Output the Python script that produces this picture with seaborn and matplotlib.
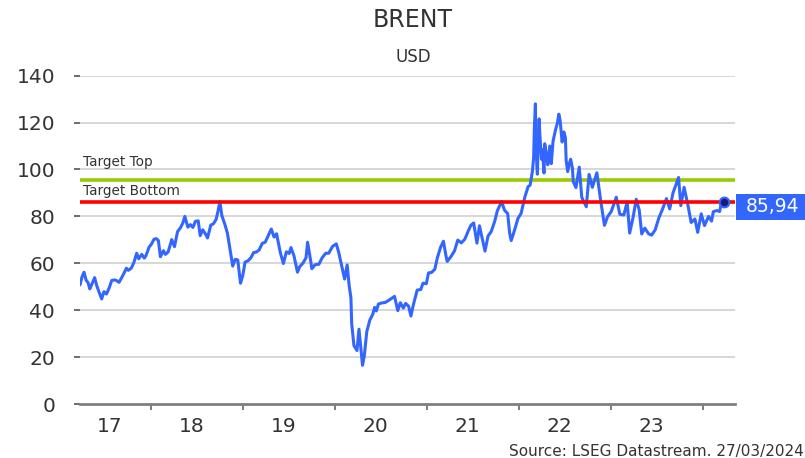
import pandas as pd
import matplotlib.pyplot as plt
import matplotlib.dates as mdates
import matplotlib.transforms as mtransforms
from matplotlib.patches import Rectangle
import seaborn as sns

# Brent, USD
dates = [
    "2017-03-27", "2017-04-04", "2017-04-12", "2017-04-20", "2017-04-28", "2017-05-05", "2017-05-12",
    "2017-05-24", "2017-06-01", "2017-06-09", "2017-06-21", "2017-06-30", "2017-07-10", "2017-07-20",
    "2017-07-31", "2017-08-10", "2017-08-18", "2017-08-29", "2017-09-08", "2017-09-20", "2017-09-27",
    "2017-10-05", "2017-10-17", "2017-10-27", "2017-11-07", "2017-11-15", "2017-11-27", "2017-12-07",
    "2017-12-14", "2017-12-26",
    "2018-01-04", "2018-01-15", "2018-01-24", "2018-02-01", "2018-02-09", "2018-02-21", "2018-03-01",
    "2018-03-12", "2018-03-26", "2018-04-06", "2018-04-18", "2018-04-30", "2018-05-09", "2018-05-17",
    "2018-05-29", "2018-06-08", "2018-06-18", "2018-06-28", "2018-07-09", "2018-07-17", "2018-07-27",
    "2018-08-08", "2018-08-15", "2018-08-28", "2018-09-07", "2018-09-18", "2018-09-25", "2018-10-03",
    "2018-10-11", "2018-10-24", "2018-11-02", "2018-11-13", "2018-11-23", "2018-12-03", "2018-12-13",
    "2018-12-24",
    "2019-01-02", "2019-01-11", "2019-01-23", "2019-02-04", "2019-02-14", "2019-02-25", "2019-03-08",
    "2019-03-20", "2019-04-01", "2019-04-12", "2019-04-25", "2019-05-06", "2019-05-16", "2019-05-31",
    "2019-06-12", "2019-06-24", "2019-07-05", "2019-07-12", "2019-07-24", "2019-08-07", "2019-08-16",
    "2019-08-29", "2019-09-10", "2019-09-16", "2019-09-27", "2019-10-03", "2019-10-16", "2019-10-31",
    "2019-11-13", "2019-11-27", "2019-12-09", "2019-12-24",
    "2020-01-08", "2020-01-17", "2020-01-31", "2020-02-10", "2020-02-20", "2020-02-28", "2020-03-06",
    "2020-03-09", "2020-03-18", "2020-03-30", "2020-04-07", "2020-04-21", "2020-04-28", "2020-05-08",
    "2020-05-20", "2020-06-01", "2020-06-08", "2020-06-15", "2020-06-23", "2020-07-06", "2020-07-20",
    "2020-08-03", "2020-08-14", "2020-08-26", "2020-09-08", "2020-09-18", "2020-09-30", "2020-10-09",
    "2020-10-21", "2020-10-30", "2020-11-09", "2020-11-24", "2020-12-08", "2020-12-17", "2020-12-30",
    "2021-01-08", "2021-01-20", "2021-02-02", "2021-02-12", "2021-02-25", "2021-03-08", "2021-03-18",
    "2021-03-23", "2021-04-06", "2021-04-21", "2021-05-04", "2021-05-18", "2021-06-01", "2021-06-15",
    "2021-06-25", "2021-07-06", "2021-07-19", "2021-07-29", "2021-08-09", "2021-08-20", "2021-09-01",
    "2021-09-14", "2021-09-28", "2021-10-08", "2021-10-25", "2021-11-05", "2021-11-18", "2021-11-26",
    "2021-12-02", "2021-12-14", "2021-12-29",
    "2022-01-10", "2022-01-25", "2022-02-07", "2022-02-15", "2022-02-24", "2022-03-01", "2022-03-04",
    "2022-03-08", "2022-03-10", "2022-03-14", "2022-03-16", "2022-03-18", "2022-03-23", "2022-03-25",
    "2022-03-30", "2022-04-01", "2022-04-05", "2022-04-11", "2022-04-14", "2022-04-20", "2022-04-26",
    "2022-05-04", "2022-05-10", "2022-05-17", "2022-05-27", "2022-06-03", "2022-06-09", "2022-06-14",
    "2022-06-22", "2022-06-29", "2022-07-05", "2022-07-08", "2022-07-14", "2022-07-22", "2022-07-26",
    "2022-08-02", "2022-08-05", "2022-08-16", "2022-08-29", "2022-09-08", "2022-09-26",
    "2022-10-07", "2022-10-20", "2022-11-07", "2022-11-21", "2022-12-07", "2022-12-19",
    "2023-01-03", "2023-01-23", "2023-02-06", "2023-02-22", "2023-03-07", "2023-03-17", "2023-03-31",
    "2023-04-12", "2023-04-24", "2023-05-04", "2023-05-16", "2023-05-31", "2023-06-12", "2023-06-26",
    "2023-07-11", "2023-07-24", "2023-08-10", "2023-08-23", "2023-09-05", "2023-09-27", "2023-10-06",
    "2023-10-19", "2023-11-03", "2023-11-16", "2023-12-01", "2023-12-12", "2023-12-26",
    "2024-01-08", "2024-01-24", "2024-02-05", "2024-02-12", "2024-02-26", "2024-03-08", "2024-03-19",
    "2024-03-27",
]
brent = [
    50.8, 54.2, 56.2, 52.9, 51.7, 49.1, 50.8,
    53.9, 50.6, 48.2, 44.8, 47.9, 46.9, 49.3,
    52.7, 52.9, 52.7, 51.9, 53.8, 56.3, 57.9,
    57.0, 58.0, 60.4, 64.3, 61.9, 63.8, 62.2,
    63.3, 66.9,
    68.1, 70.3, 70.5, 69.7, 62.8, 65.4, 63.8,
    64.9, 70.1, 67.1, 73.5, 75.2, 77.2, 80.0,
    75.4, 76.5, 75.3, 77.9, 78.1, 71.8, 74.3,
    72.3, 70.8, 76.3, 76.8, 78.7, 81.9, 86.3,
    80.3, 76.2, 72.8, 65.5, 58.8, 61.7, 61.4,
    51.5,
    54.9, 60.5, 61.1, 62.5, 64.6, 64.8, 65.7,
    68.5, 69.0, 71.6, 74.6, 71.2, 72.6, 64.5,
    59.9, 64.9, 64.2, 66.7, 63.2, 56.2, 58.6,
    60.1, 62.4, 69.0, 61.9, 57.7, 59.4, 59.6,
    62.4, 64.3, 64.3, 67.2,
    68.3, 64.9, 58.2, 53.3, 59.3, 50.5, 45.3,
    34.4, 24.9, 22.8, 31.9, 16.5, 20.5, 30.9,
    35.8, 38.3, 41.2, 39.7, 42.6, 43.1, 43.3,
    44.2, 45.0, 45.9, 39.8, 43.2, 40.9, 42.9,
    41.7, 37.5, 42.4, 48.6, 48.8, 51.5, 51.3,
    55.9, 56.1, 57.5, 62.4, 66.9, 69.4, 63.3,
    60.8, 62.7, 65.3, 69.9, 68.7, 70.3, 73.9,
    76.2, 77.2, 68.6, 76.0, 70.6, 65.2, 71.6,
    73.6, 78.1, 82.4, 86.4, 82.7, 81.2, 72.7,
    69.7, 73.7, 79.2,
    81.2, 88.2, 92.7, 93.3, 99.1, 105.0, 118.0,
    128.0, 111.0, 101.0, 98.0, 108.0, 121.6, 116.0,
    108.0, 104.4, 108.5, 98.5, 111.0, 106.8, 102.0,
    110.0, 102.5, 112.0, 117.0, 119.7, 123.6, 121.0,
    111.7, 116.0, 113.5, 104.0, 99.1, 103.0, 104.4,
    100.5, 94.9, 92.3, 101.0, 88.1, 84.1,
    97.9, 92.4, 98.6, 87.5, 76.2, 79.8,
    82.1, 88.2, 80.9, 80.6, 86.2, 72.9, 79.8,
    87.3, 82.7, 72.5, 75.0, 72.6, 72.0, 74.2,
    79.4, 82.7, 87.6, 83.2, 90.0, 96.6, 84.6,
    92.4, 84.9, 77.4, 78.9, 73.2, 81.1,
    76.1, 80.0, 78.0, 82.0, 82.5, 82.1, 87.4,
    85.94,
]

target_top = 95.5
target_bottom = 86.0
year_labels = ["17", "18", "19", "20", "21", "22", "23"]
year_label_pos = ["2017-07-23", "2018-06-12", "2019-06-12", "2020-06-12",
                  "2021-06-12", "2022-06-12", "2023-06-12"]
y_ticks = [0, 20, 40, 60, 80, 100, 120, 140]

df = pd.DataFrame({"date": pd.to_datetime(dates), "brent": brent})

sns.set_style("white")
plt.rcParams["font.family"] = ["DejaVu Sans"]

blue = "#3366FF"
text_col = "#333333"

fig = plt.figure(figsize=(8.05, 4.58), dpi=100)
ax = fig.add_axes([80 / 805, 1 - 404 / 458, (735 - 80) / 805, (404 - 75.7) / 458])

for v in y_ticks[1:]:
    ax.axhline(v, color="#d4d4d4", lw=1.3, zorder=0)

sns.lineplot(data=df, x="date", y="brent", ax=ax, color=blue, lw=2.2, zorder=3)

btrans = mtransforms.blended_transform_factory(ax.transAxes, ax.transData)
ax.axhline(target_top, color="#99cc00", lw=2.6, zorder=2)
ax.axhline(target_bottom, color="#ff0000", lw=2.6, zorder=4)
ax.text(0.005, 101.5, "Target Top", transform=btrans,
        fontsize=9.8, color=text_col, va="baseline", ha="left")
ax.text(0.005, 89.1, "Target Bottom", transform=btrans,
        fontsize=9.8, color=text_col, va="baseline", ha="left")

# last value marker + label
last_date = df["date"].iloc[-1]
last_val = df["brent"].iloc[-1]
ax.plot([last_date], [last_val], "o", ms=7, mfc="#1a1a7a", mec=blue, mew=1.5, zorder=5)
ax.add_patch(Rectangle((1.002, last_val - 7.4), 0.2, 11.1, transform=btrans,
                       facecolor=blue, edgecolor="none", clip_on=False, zorder=5))
ax.text(1.0165, last_val - 1.8, f"{last_val:.2f}".replace(".", ","), transform=btrans,
        color="white", fontsize=13.5, va="center", ha="left", zorder=6)

ax.set_ylim(0, 140)
ax.set_xlim(pd.Timestamp("2017-03-27"), pd.Timestamp("2024-05-08"))
ax.set_yticks(y_ticks)
ax.set_yticklabels([str(v) for v in y_ticks])
ax.tick_params(axis="y", length=4, width=1.2, color="#555555", pad=14, labelsize=14.5, labelcolor=text_col, left=True)

ax.xaxis.set_major_locator(mdates.YearLocator())
ax.xaxis.set_major_formatter(plt.NullFormatter())
ax.set_xticks(mdates.date2num(pd.to_datetime(year_label_pos)), minor=True)
ax.set_xticklabels(year_labels, minor=True)
ax.tick_params(axis="x", which="major", length=4, width=1.2, color="#666666", bottom=True, direction="out", pad=2)
ax.tick_params(axis="x", which="minor", length=0, pad=9, labelsize=14.5, labelcolor=text_col)

for s in ["top", "right", "left"]:
    ax.spines[s].set_visible(False)
ax.spines["bottom"].set_color("#808080")
ax.spines["bottom"].set_linewidth(2)
ax.set_xlabel("")
ax.set_ylabel("")

fig.text(0.513, 1 - 27 / 458, "BRENT", ha="center", va="baseline", fontsize=17, color=text_col)
fig.text(0.513, 1 - 62 / 458, "USD", ha="center", va="baseline", fontsize=12, color=text_col)
fig.text(0.998, 1 - 456 / 458, "Source: LSEG Datastream. 27/03/2024", ha="right", va="baseline",
         fontsize=11, color=text_col)

fig.savefig("out.png", dpi=100)
